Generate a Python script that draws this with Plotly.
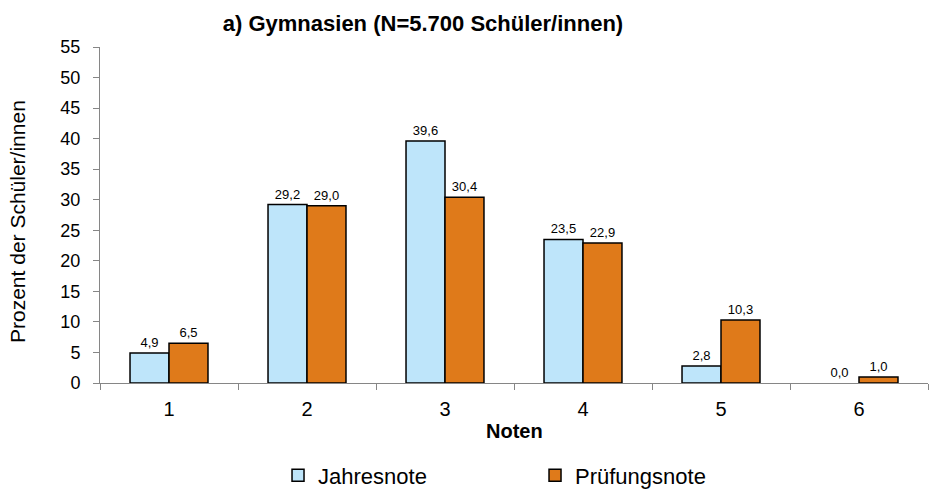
import plotly.graph_objects as go

categories = ["1", "2", "3", "4", "5", "6"]
jahresnote = [4.9, 29.2, 39.6, 23.5, 2.8, 0.0]
pruefungsnote = [6.5, 29.0, 30.4, 22.9, 10.3, 1.0]
y_ticks = list(range(0, 56, 5))

FONT = "Liberation Sans, Arial, sans-serif"


def outline_widths(values):
    # zero-height bars show no outline in the reference
    return [1.5 if v > 0 else 0 for v in values]


fig = go.Figure()
fig.add_trace(go.Bar(
    name="Jahresnote", x=categories, y=jahresnote,
    marker=dict(color="#BEE5FA", line=dict(color="#000000", width=outline_widths(jahresnote))),
    texttemplate="%{y:.1f}", textposition="outside", cliponaxis=False,
    textfont=dict(size=13, color="#000000", family=FONT),
))
fig.add_trace(go.Bar(
    name="Prüfungsnote", x=categories, y=pruefungsnote,
    marker=dict(color="#DF7A1A", line=dict(color="#000000", width=outline_widths(pruefungsnote))),
    texttemplate="%{y:.1f}", textposition="outside", cliponaxis=False,
    textfont=dict(size=13, color="#000000", family=FONT),
))

fig.update_layout(
    width=929, height=490,
    margin=dict(l=100, r=1, t=47, b=107, autoexpand=False),
    paper_bgcolor="white", plot_bgcolor="white",
    separators=",.",
    font=dict(family=FONT, color="#000000"),
    barmode="group", bargap=0.435, bargroupgap=0,
    title=dict(
        text="<b>a) Gymnasien (N=5.700 Schüler/innen)</b>",
        x=423 / 929, xanchor="center", xref="container",
        y=1 - 23 / 490, yanchor="middle", yref="container",
        font=dict(size=22, family=FONT, color="#000000"),
    ),
    showlegend=True,
    legend=dict(
        orientation="h", x=0.215, xanchor="left",
        y=-0.275, yanchor="middle",
        entrywidth=212, entrywidthmode="pixels",
        font=dict(size=22, family=FONT, color="#000000"),
        bgcolor="rgba(0,0,0,0)",
    ),
    xaxis=dict(
        type="category", tickson="boundaries", automargin=False,
        ticks="outside", ticklen=6, tickcolor="#868686",
        showline=True, linecolor="#868686", linewidth=1,
        showgrid=False, zeroline=False,
        tickfont=dict(size=20, family=FONT, color="#000000"),
        ticklabelstandoff=8,
    ),
    yaxis=dict(
        range=[0, 55], tickvals=y_ticks, automargin=False,
        ticks="outside", ticklen=6, tickcolor="#868686",
        showline=True, linecolor="#868686", linewidth=1,
        showgrid=False, zeroline=False,
        tickfont=dict(size=18, family=FONT, color="#000000"),
        ticklabelstandoff=9,
    ),
    annotations=[
        dict(text="<b>Noten</b>", xref="paper", yref="paper",
             x=0.5, y=-48 / 336, xanchor="center", yanchor="middle",
             showarrow=False, font=dict(size=20, family=FONT, color="#000000")),
        dict(text="Prozent der Schüler/innen", xref="paper", yref="paper",
             x=(18 - 100) / 828, y=(383 - 222) / 336, xanchor="center", yanchor="middle",
             textangle=-90, showarrow=False,
             font=dict(size=21, family=FONT, color="#000000")),
    ],
)

fig.write_html(
    "out.html",
    config={"displayModeBar": False},
    post_script="document.body.style.margin='0';document.body.style.overflow='hidden';",
)
